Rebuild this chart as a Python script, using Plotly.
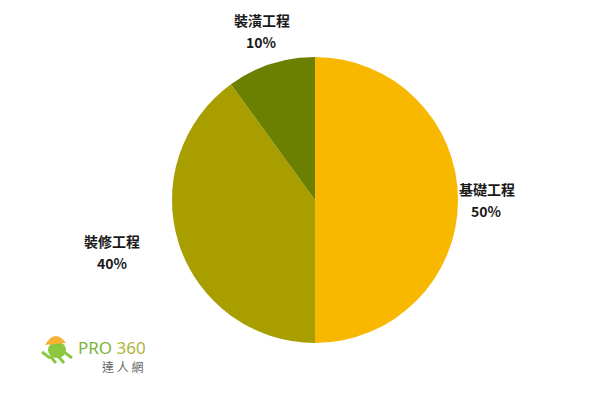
import math
import plotly.graph_objects as go

categories = ["基礎工程", "裝修工程", "裝潢工程"]
values = [50, 40, 10]
colors = ["#F8B800", "#A99E00", "#6B7F00"]

# label placement style (radial factor, vertical nudge in px)
label_k = [1.20, 1.49, 1.21]
label_dy = [0, -14, -4]

W, H = 600, 400
OFF = 8  # page body margin offset
cx, cy, r = 315 - OFF, 200 - OFF, 143


def px(x):
    return x / W


def py(y):
    return 1 - y / H


fig = go.Figure(go.Pie(
    labels=categories,
    values=values,
    sort=False,
    direction="clockwise",
    rotation=0,
    marker=dict(colors=colors, line=dict(width=0)),
    textinfo="none",
    domain=dict(x=[px(cx - r), px(cx + r)], y=[py(cy + r), py(cy - r)]),
    showlegend=False,
    hoverinfo="label+percent",
))

total = sum(values)
cum = 0
font_lbl = dict(family="Noto Sans CJK TC", size=14, color="#1a1a1a", weight=700)
for i, (cat, v) in enumerate(zip(categories, values)):
    mid = (cum + v / 2) / total * 2 * math.pi
    cum += v
    lx = cx + r * label_k[i] * math.sin(mid)
    ly = cy - r * label_k[i] * math.cos(mid) + label_dy[i]
    pct = f"{round(v / total * 100)}%"
    fig.add_annotation(x=px(lx), y=py(ly - 11), xref="paper", yref="paper", text=cat,
                       showarrow=False, xanchor="center", yanchor="middle", font=font_lbl)
    fig.add_annotation(x=px(lx), y=py(ly + 11), xref="paper", yref="paper", text=pct,
                       showarrow=False, xanchor="center", yanchor="middle", font=font_lbl)

# logo (approximate)
fig.add_shape(type="circle", xref="paper", yref="paper",
              x0=px(48 - OFF), x1=px(66 - OFF), y0=py(358 - OFF), y1=py(342 - OFF),
              fillcolor="#8DC63F", line=dict(width=0))
for (x0, y0, x1, y1) in [(42, 352, 50, 358), (64, 352, 72, 358), (50, 356, 56, 363), (58, 356, 64, 363)]:
    fig.add_shape(type="line", xref="paper", yref="paper",
                  x0=px(x0 - OFF), y0=py(y0 - OFF), x1=px(x1 - OFF), y1=py(y1 - OFF),
                  line=dict(color="#8DC63F", width=3))
fig.add_shape(type="path", xref="paper", yref="paper",
              path=f"M {px(45-OFF)} {py(345-OFF)} Q {px(55-OFF)} {py(328-OFF)} {px(66-OFF)} {py(343-OFF)} Z",
              fillcolor="#F5B335", line=dict(width=0))
fig.add_annotation(x=px(76 - OFF), y=py(347 - OFF), xref="paper", yref="paper",
                   text="<span style='color:#7DB53A'>PRO</span> <span style='color:#B0B43A'>360</span>",
                   showarrow=False, xanchor="left", yanchor="middle",
                   font=dict(family="Noto Sans", size=17, color="#7DB53A"))
fig.add_annotation(x=px(100 - OFF), y=py(366 - OFF), xref="paper", yref="paper",
                   text="達 人 網", showarrow=False, xanchor="left", yanchor="middle",
                   font=dict(family="Noto Sans CJK TC", size=12, color="#666666"))

fig.update_layout(
    width=W, height=H,
    margin=dict(l=0, r=0, t=0, b=0),
    paper_bgcolor="white",
    plot_bgcolor="white",
)

fig.write_html("out.html")
